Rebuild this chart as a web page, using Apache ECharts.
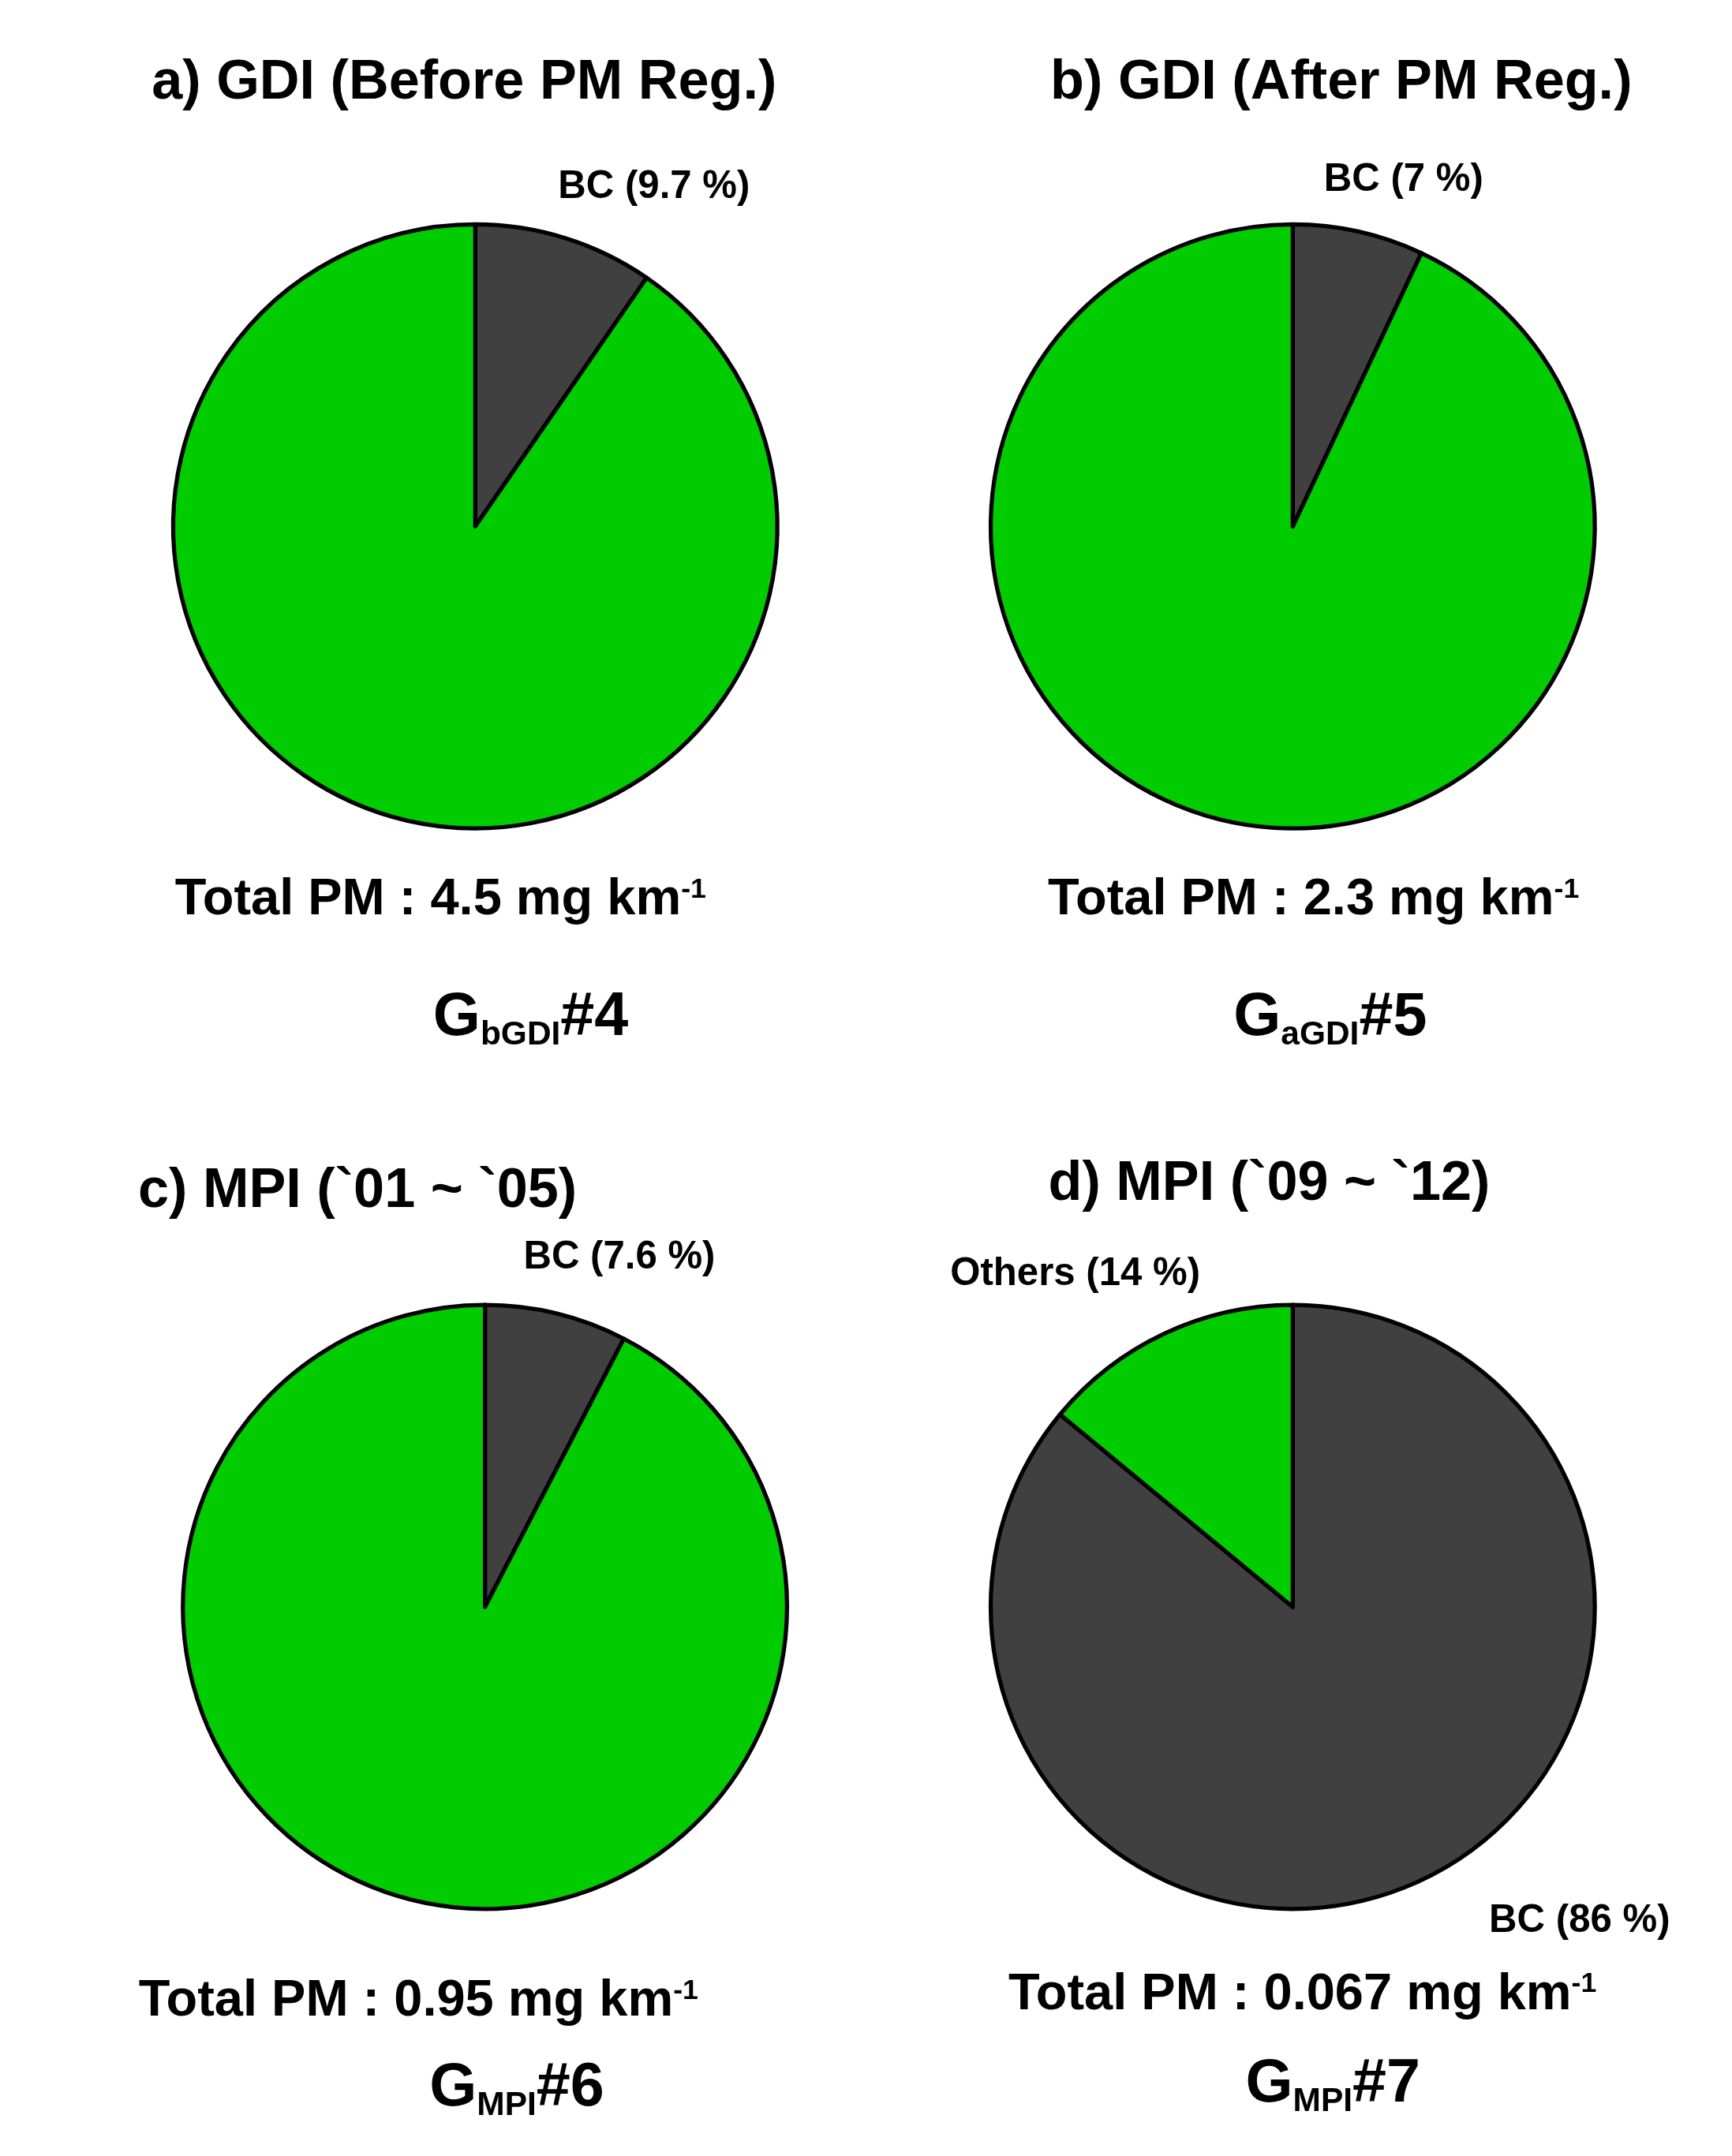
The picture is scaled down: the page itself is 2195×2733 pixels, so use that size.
<!DOCTYPE html>
<html><head><meta charset="utf-8">
<script src="https://cdn.jsdelivr.net/npm/echarts@6/dist/echarts.min.js"></script>
<style>html,body{margin:0;background:#fff}#c{width:2195px;height:2733px}</style>
</head><body><div id="c"></div>
<script>
var S = 2195 / 1250;
var panels = ['a) GDI (Before PM Reg.)', 'b) GDI (After PM Reg.)', 'c) MPI (`01 ~ `05)', 'd) MPI (`09 ~ `12)'];
var bcShare = [9.7, 7, 7.6, 86];
var otherShare = [91.3, 93, 92.4, 14];
var totals = ['4.5', '2.3', '0.95', '0.067'];
var groupMain = ['G', 'G', 'G', 'G'];
var groupSub = ['bGDI', 'aGDI', 'MPI', 'MPI'];
var groupNum = ['#4', '#5', '#6', '#7'];

var centers = [[343, 380], [933, 380], [350, 1160], [933, 1160]];
var font = 'Liberation Sans, Arial, sans-serif';
var chart = echarts.init(document.getElementById('c'));

var series = [], graphic = [];
function txt(x, y, rich, fs) {
  graphic.push({type: 'text', x: x * S, y: y * S, style: {
    text: rich, x: 0, y: 0, align: 'center', verticalAlign: 'middle',
    fontFamily: font, fontWeight: 'bold', fontSize: fs * S, fill: '#000', lineHeight: fs * S * 1.1,
    rich: {
      sub: {fontSize: fs * 0.55 * S, fontWeight: 'bold', fontFamily: font, verticalAlign: 'bottom', padding: [fs * 0.35 * S, 0, 0, 0]},
      sup: {fontSize: fs * 0.55 * S, fontWeight: 'bold', fontFamily: font, padding: [0, 0, fs * 0.4 * S, 0]}
    }
  }});
}

for (var i = 0; i < 4; i++) {
  series.push({
    type: 'pie', center: [centers[i][0] * S, centers[i][1] * S], radius: 218 * S,
    startAngle: 90, clockwise: true, silent: true, label: {show: false}, labelLine: {show: false},
    itemStyle: {borderColor: '#000', borderWidth: 3 * S},
    data: [
      {name: 'BC', value: bcShare[i], itemStyle: {color: '#404040'}},
      {name: 'Others', value: otherShare[i], itemStyle: {color: '#00cc00'}}
    ]
  });
}

var titlePos = [[335, 60], [968, 60], [258, 860], [916, 855]];
var bcPos = [[472, 135], [1013, 130], [447, 908], [1140, 1387]];
var othPos = [[310, 480], [897, 499], [322, 1277], [776, 920]];
var totPos = [[318, 650], [948, 650], [302, 1445], [940, 1440]];
var grpPos = [[383, 735], [960, 735], [373, 1508], [962, 1505]];

for (var i = 0; i < 4; i++) {
  txt(titlePos[i][0], titlePos[i][1], panels[i], 40);
  txt(bcPos[i][0], bcPos[i][1], 'BC (' + bcShare[i] + ' %)', 28);
  if (i < 3) txt(othPos[i][0], othPos[i][1], 'Others\n(' + otherShare[i] + ' %)', 30);
  else txt(othPos[i][0], othPos[i][1], 'Others (' + otherShare[i] + ' %)', 28);
  txt(totPos[i][0], totPos[i][1], 'Total PM : ' + totals[i] + ' mg km{sup|-1}', 37);
  txt(grpPos[i][0], grpPos[i][1], groupMain[i] + '{sub|' + groupSub[i] + '}' + groupNum[i], 44);
}

chart.setOption({backgroundColor: '#fff', animation: false, series: series, graphic: graphic});
</script></body></html>
